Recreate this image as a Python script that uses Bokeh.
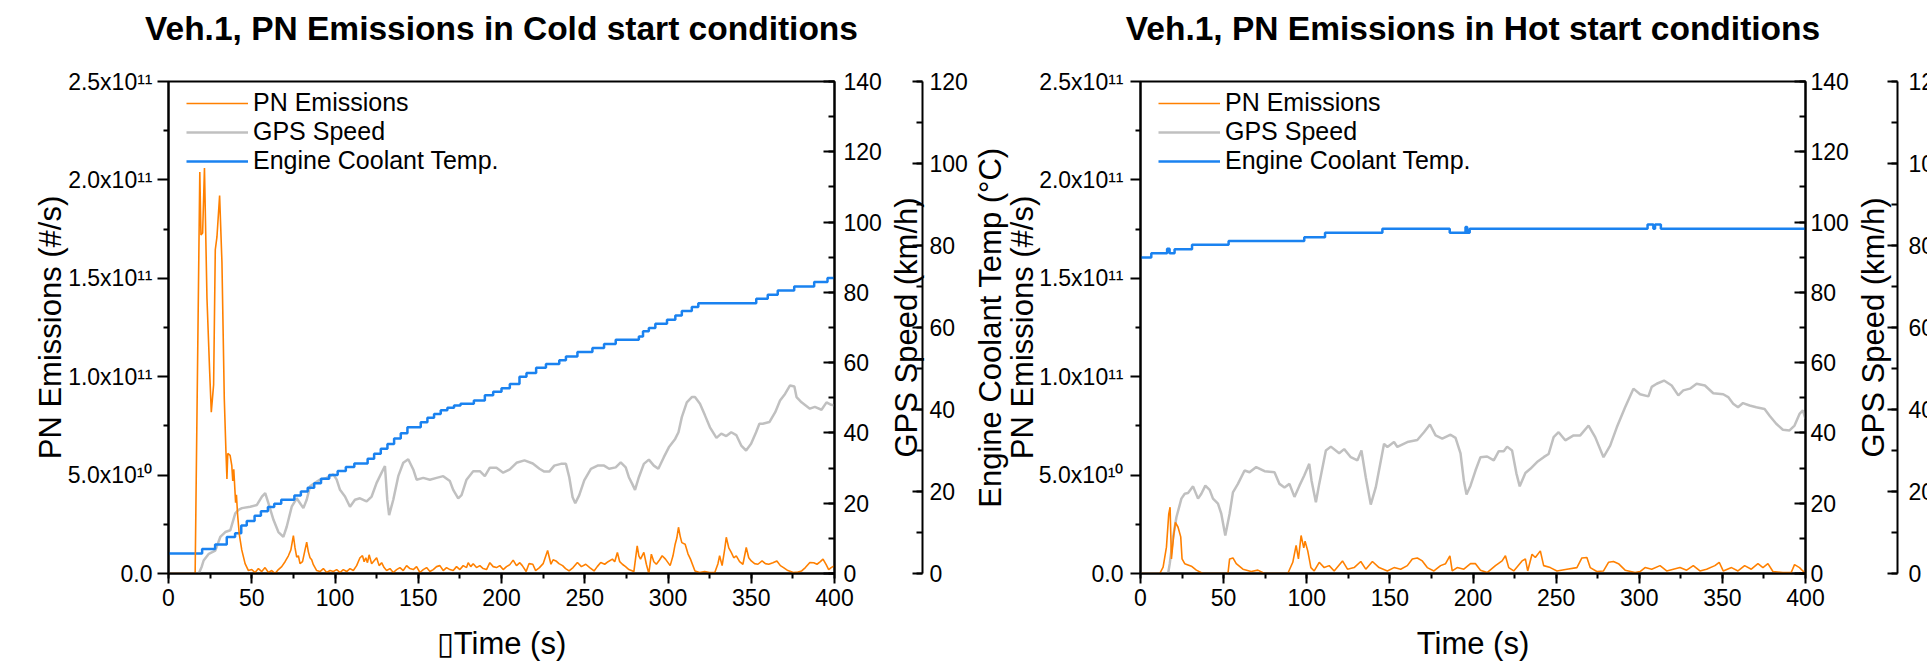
from bokeh.plotting import figure
from bokeh.models import (LinearAxis, Range1d, SingleIntervalTicker, FixedTicker,
                          Legend, LegendItem)
from bokeh.layouts import row
from bokeh.embed import file_html
from bokeh.resources import INLINE

# ---------------- data ----------------
# Cold start: PN emissions (#/s)
cold_pn_t = [0, 16, 18.8, 19.5, 20.5, 21.6, 23.1, 24.7, 25.7, 27.1, 28.1, 29.1, 30.7, 32.1, 33.5,
             34.5, 35.1, 35.6, 37, 38, 38.6, 39.2, 40.3, 40.8, 41.5, 42.5, 44, 46, 48,
             50, 52, 54, 56, 58, 60, 62, 64, 66, 68, 70, 72, 73.5, 75, 76, 77, 78, 79, 80.5, 82, 83,
             84, 85, 86, 87, 89, 91, 93, 95, 97, 99, 101, 103, 105, 107, 109, 111, 113, 115, 116.5,
             117.5, 118.5, 119.5, 120.5, 122, 123.5, 125, 126.5, 128, 129.5, 131, 133, 135, 137, 139,
             141, 143, 145, 147, 149, 151, 153, 155, 157, 159, 161, 163, 165, 167, 169, 171, 173, 175,
             177, 179, 180, 181.5, 183, 185, 187, 189, 191, 193, 195, 197, 199, 201, 203, 205, 207, 209,
             211, 212.5, 214.8, 216.5, 218.8, 220.5, 222.8, 225, 227.7, 229.7, 231, 232.7, 234.5, 236.7,
             238.5, 240.6, 243, 245.6, 248, 250.6, 253, 255.6, 257.5, 259.6, 262, 264, 266.6, 268, 269.6,
             271, 272.6, 274.5, 276.5, 279.5, 281.5, 282.5, 283.5, 285.5, 287, 288.5, 290, 291.5, 293,
             295, 296.5, 298.5, 301.3, 303, 304.3, 305.3, 306.3, 307.3, 308.3, 310.3, 312, 313.5, 316.2,
             319, 322, 325, 328.1, 330, 331, 332.5, 334, 335, 336.5, 338, 339.5, 341, 343, 345, 347,
             348.5, 350, 352, 354, 356.5, 358.5, 360.5, 363, 365.4, 367.5, 369.4, 372, 375.3, 378, 380.3,
             382.5, 385.2, 387.5, 389.5, 391.5, 393.1, 395, 396.5, 398, 400]
cold_pn_v = [0, 0, 2.04e11, 1.72e11, 1.73e11, 2.06e11, 1.40e11, 1.03e11, 0.82e11, 0.96e11, 1.645e11,
             1.71e11, 1.92e11, 1.58e11, 0.89e11, 0.62e11, 0.48e11, 0.61e11, 0.60e11, 0.55e11, 0.47e11,
             0.53e11, 0.36e11, 0.40e11, 0.30e11, 0.20e11, 0.12e11, 0.05e11, 0.015e11,
             0.2e10, 0.05e10, 0.25e10, 0.1e10, 0.3e10, 0.05e10, 0.15e10, 0.0, 0.2e10, 0.35e10, 0.6e10,
             0.9e10, 1.2e10, 1.93e10, 1.3e10, 0.83e10, 0.9e10, 0.5e10, 0.6e10, 1.2e10, 1.59e10,
             1.1e10, 0.8e10, 0.7e10, 0.45e10, 0.15e10, 0.1e10, 0.25e10, 0.05e10, 0.15e10, 0.1e10,
             0.2e10, 0.05e10, 0.2e10, 0.1e10, 0.25e10, 0.15e10, 0.4e10, 0.8e10, 0.91e10,
             0.6e10, 0.8e10, 0.55e10, 0.95e10, 0.5e10, 0.65e10, 0.8e10, 0.4e10, 0.55e10, 0.3e10,
             0.15e10, 0.25e10, 0.05e10, 0.2e10, 0.3e10,
             0.15e10, 0.4e10, 0.25e10, 0.2e10, 0.35e10, 0.05e10, 0.2e10, 0.3e10, 0.1e10, 0.2e10,
             0.35e10, 0.4e10, 0.15e10, 0.3e10, 0.2e10, 0.15e10, 0.35e10, 0.2e10,
             0.4e10, 0.3e10, 0.55e10, 0.35e10, 0.5e10, 0.3e10, 0.4e10, 0.25e10, 0.2e10, 0.55e10,
             0.35e10, 0.3e10, 0.4e10, 0.2e10, 0.35e10, 0.45e10, 0.68e10, 0.4e10,
             0.55e10, 0.4e10, 0.1e10, 0.5e10, 0.47e10, 0.15e10, 0.3e10, 0.5e10, 1.17e10, 0.47e10,
             0.7e10, 0.64e10, 0.5e10, 0.4e10,
             0.25e10, 0.13e10, 0.3e10, 0.56e10, 0.35e10, 0.47e10, 0.3e10, 0.13e10, 0.35e10, 0.56e10,
             0.47e10, 0.6e10, 0.73e10, 0.6e10, 1.07e10,
             0.6e10, 0.47e10, 0.35e10, 0.2e10, 0.1e10, 1.4e10, 0.9e10, 0.73e10, 1.07e10, 0.47e10,
             0.0, 0.98e10, 0.6e10, 0.47e10,
             0.7e10, 0.9e10, 0.73e10, 0.4e10, 0.9e10, 1.49e10, 1.8e10, 2.35e10, 1.9e10, 1.57e10,
             1.49e10, 1.0e10, 0.73e10, 0.13e10,
             0.05e10, 0.1e10, 0.05e10, 0.05e10, 0.5e10, 0.9e10, 0.4e10, 1.2e10, 1.84e10, 1.3e10,
             1.07e10, 0.8e10, 0.9e10, 0.6e10, 0.47e10, 1.32e10,
             0.8e10, 0.64e10, 0.5e10, 0.47e10, 0.64e10, 0.5e10, 0.47e10, 0.55e10, 0.64e10, 0.4e10,
             0.3e10, 0.15e10, 0.05e10, 0.08e10, 0.13e10,
             0.3e10, 0.56e10, 0.55e10, 0.47e10, 0.6e10, 0.73e10, 0.45e10, 0.2e10, 0.3e10, 0.4e10]

# Cold start: GPS speed (km/h)
cold_gps_t = [0, 18.2, 20, 21.1, 24.2, 28.1, 31.1, 34.1, 37.1, 40.1, 42, 44.1, 49.1, 53.1, 56.1, 58.1,
              60, 63.1, 66, 69, 71, 74, 77, 79, 81, 83, 85, 88, 91, 95, 99, 101, 103, 106, 109, 112,
              115, 119, 122, 125, 128, 130, 131.4, 132.5, 135, 138, 141, 144, 147, 149, 153, 157, 161,
              165, 169, 171, 174, 176, 179, 183, 187, 190, 193, 197, 201, 205, 209, 213.8, 218.8,
              222.8, 225.7, 228.7, 231.7, 235.7, 238.7, 240.7, 242.7, 244.3, 246.7, 249.7, 253.7,
              257.7, 261.6, 264.6, 268.6, 271.6, 274.6, 276.5, 278.5, 280.2, 282.5, 285.5, 288.5,
              291.5, 294.2, 297.5, 300.5, 304.3, 306.3, 308.3, 311.3, 314.3, 316.2, 319.2, 322.2,
              325.2, 329.1, 332, 335, 338, 341, 344, 346.9, 349.9, 352.9, 354.9, 356.9, 360.9, 364.4,
              367.3, 370.3, 373.3, 375.9, 377.2, 380.2, 385.2, 388.2, 392.2, 395.2, 398, 400]
cold_gps_v = [0, 0, 2, 3.7, 5.6, 6.5, 10.4, 11.8, 12.3, 17.1, 18.1, 18.6, 19.0, 19.5, 21.9, 22.9,
              20, 15.2, 11.8, 10.4, 13.3, 19, 21.4, 20, 18.6, 21, 24.8, 25.8, 26.7, 27.2, 28.2, 26.7,
              23.8, 21.9, 19.0, 21, 21.4, 20.5, 21.9, 25.8, 28.7, 30.6, 21, 16.6, 21, 27.7, 31.5,
              32.5, 29.6, 26.7, 27.2, 26.7, 27.2, 27.7, 26.3, 23.8, 21.4, 22.3, 26.7, 29.1, 29.1,
              27.7, 30.1, 30.1, 28.7, 29.6, 31.5, 32.2, 31.3, 29.8, 29, 29, 30.7, 31.2, 31.2, 27.4,
              21.7, 20, 22.3, 26.5, 29.8, 30.7, 30.7, 29.8, 30.2, 31.6, 30.2, 27.4, 25.5, 23.8,
              27.4, 31.2, 32.4, 30.7, 29.8, 33.1, 35.9, 38.3, 40.2, 44.5, 48.7, 50.2, 50.2, 48.3,
              45, 41.6, 38.6, 39.8, 39.1, 40.2, 39.4, 36.4, 35, 36.9, 40.2, 42.6, 42.6, 43.1, 45.9,
              49.2, 51.1, 53.5, 53.2, 50.2, 48.7, 46.9, 47.4, 46.6, 48.7, 48, 47.8]

# Cold start: engine coolant temperature (deg C)
cold_cool_t = [0, 20.2, 28, 35, 40, 43.7, 47, 51.7, 55.5, 59.7, 63.5, 67.7, 75.6, 79.5, 83.6, 87.5,
               91.6, 96.5, 101.6, 106.5, 111.6, 119.6, 123.5, 127.5, 131.5, 135.5, 139.5, 143.5,
               151.5, 155.5, 159.5, 163.5, 167.5, 171.5, 175.4, 183.4, 190, 195, 200, 205, 210.8,
               215, 220.8, 226.7, 234.7, 238.7, 245.6, 254.6, 261.6, 268.6, 282.5, 285, 288.5,
               292.4, 299.4, 304.4, 308.3, 314.3, 318.2, 328.1, 353, 359.9, 365.9, 375.8, 387.8,
               395.8, 400]
cold_cool_v = [4.9, 6.0, 7.1, 8.9, 9.8, 11.7, 12.8, 14.1, 15.2, 16.2, 17.0, 18.0, 19.0, 20.0, 20.9,
               22.0, 23.1, 24.0, 25.0, 26.0, 26.8, 28.0, 29.2, 30.4, 31.6, 32.9, 34.2, 35.7, 36.9,
               38.0, 38.9, 39.8, 40.4, 41.0, 41.4, 42.2, 43.5, 44.3, 45.2, 46.2, 48.0, 48.9, 50.2,
               51.1, 52.0, 52.9, 54.0, 55.0, 56.0, 57.0, 57.8, 59.1, 59.9, 60.9, 61.9, 62.9, 64.0,
               65.0, 65.9, 65.9, 67.0, 68.0, 69.0, 70.0, 71.1, 72.1, 72.1]

# Hot start: PN emissions (#/s)
hot_pn_t = [0, 11.6, 13.6, 15.6, 17, 17.8, 18.6, 20, 21, 22.6, 24.2, 25, 26.6, 30.6, 33.6, 37.6, 52.6,
            53.6, 55.6, 57.6, 61.6, 66.6, 70.6, 74.6, 88.6, 91.6, 93.6, 95, 96.6, 98.2, 99, 100.6,
            102.5, 104.5, 107.5, 110.5, 113.5, 116.5, 121.5, 124.5, 128.5, 132.5, 135.5, 139.5,
            143.5, 148.5, 152.5, 156.5, 160.5, 163.5, 166.5, 169.5, 172.5, 176.5, 180.5, 183.5,
            186.1, 187.5, 190.5, 194.5, 198.5, 201.5, 204.5, 208.5, 213.5, 217.5, 219.5, 221.5,
            224.5, 229.5, 231.5, 232.9, 235.5, 237.5, 240.5, 242.5, 246.5, 250.5, 256.5, 262.5,
            265.5, 268.5, 270.5, 274.5, 278.5, 281.5, 284.5, 287.5, 291.5, 297.5, 300.5, 303.5,
            307.5, 312.5, 316.5, 320.5, 324.5, 328.5, 332.5, 336.5, 340.5, 345.5, 348.1, 350.5,
            355.5, 359.4, 363.4, 367.4, 371.4, 374.4, 377.4, 380.4, 386.4, 391.4, 393.4, 396.4,
            398.4, 400]
hot_pn_v = [0, 0, 0.32e10, 1.34e10, 3.03e10, 3.37e10, 0.74e10, 1.96e10, 2.6e10, 2.35e10, 1.86e10,
            0.74e10, 0.5e10, 0.37e10, 0.17e10, 0, 0, 0.74e10, 0.79e10, 0.5e10, 0.22e10, 0.1e10,
            0.17e10, 0, 0, 0.57e10, 1.43e10, 0.74e10, 1.93e10, 1.3e10, 1.64e10, 1.15e10, 0.3e10,
            0.13e10, 0.57e10, 0.3e10, 0.4e10, 0.13e10, 0.64e10, 0.22e10, 0.3e10, 0.61e10, 0.22e10,
            0.61e10, 0.3e10, 0.13e10, 0.3e10, 0.22e10, 0.4e10, 0.74e10, 0.79e10, 0.64e10, 0.3e10,
            0.13e10, 0.4e10, 0.5e10, 0.9e10, 0.13e10, 0.3e10, 0.22e10, 0.5e10, 0.5e10, 0.17e10,
            0.05e10, 0.4e10, 0.64e10, 0.9e10, 0.3e10, 0.13e10, 0.64e10, 0.74e10, 0.13e10, 0.98e10,
            0.81e10, 1.15e10, 0.4e10, 0.3e10, 0.13e10, 0.22e10, 0.3e10, 0.79e10, 0.81e10, 0.3e10,
            0.1e10, 0.13e10, 0.57e10, 0.61e10, 0.5e10, 0.17e10, 0.05e10, 0.1e10, 0.3e10, 0.22e10,
            0.4e10, 0.13e10, 0.22e10, 0.3e10, 0.17e10, 0.4e10, 0.13e10, 0.22e10, 0.4e10, 0.57e10,
            0.13e10, 0.3e10, 0.13e10, 0.4e10, 0.22e10, 0.5e10, 0.3e10, 0.5e10, 0.1e10, 0.05e10,
            0.05e10, 0.45e10, 0.3e10, 0.13e10, 0]

# Hot start: GPS speed (km/h)
hot_gps_t = [0, 16.6, 17.6, 19.6, 21.6, 24.6, 26.6, 28.6, 31.6, 34.6, 36.6, 39, 41.6, 43.6, 46.6,
             48.6, 51, 53.6, 55.6, 58.6, 62.6, 65.6, 69.6, 74.6, 80.6, 83.6, 86.6, 89.6, 92.6, 95.6,
             98.5, 101.5, 102.9, 105.5, 107.5, 111.5, 114.5, 119.5, 122.5, 126.5, 130.5, 132.9,
             135.5, 138.5, 141.5, 146.5, 148.5, 152.5, 154.5, 160.5, 166.5, 170.5, 174.1, 177.5,
             181.5, 186.5, 189.5, 192.5, 194.5, 196.1, 198.5, 201.5, 204.5, 208.5, 212.5, 215.5,
             218.5, 220.5, 223.5, 226.1, 228.1, 231.5, 234.5, 238.5, 242.5, 245.5, 248.5, 251.5,
             255.5, 260.5, 264.5, 269.5, 273.5, 278.5, 282.5, 286.5, 291.5, 296.5, 300.5, 305.5,
             307.5, 310.5, 314.9, 319.5, 323.5, 326.5, 330.5, 334.5, 339.5, 344.5, 350.5, 353.5,
             356.5, 359.4, 362.4, 366.4, 370.4, 375.4, 378.4, 382.4, 386.4, 390.4, 393.4, 396.4,
             398.4, 400]
hot_gps_v = [0, 0, 2.8, 10.3, 16, 21.3, 22.7, 22.9, 24.8, 21.3, 22.7, 25, 23.8, 21.3, 19.9, 17,
             10.8, 17, 23.1, 25.5, 29.3, 28.8, 30.3, 29.1, 28.8, 25.5, 24.5, 25.5, 21.8, 25, 27.9,
             31.2, 26.4, 20.3, 25.5, 35, 36.1, 34.2, 35.4, 33.1, 32.2, 35, 27.4, 19.6, 24.5, 36.9,
             36, 37.4, 36, 37.4, 38, 40.2, 42.4, 39.3, 38.4, 39.5, 38.6, 34.2, 26.4, 22.5, 25,
             29.3, 33.1, 33.3, 32.2, 34.8, 34.8, 36.1, 35, 28.5, 24.8, 28.6, 29.8, 31.7, 33.1, 34,
             38.8, 40.2, 37.9, 39.3, 39.3, 42.1, 38.8, 33.1, 36.4, 41.6, 47.3, 52.6, 51, 50.4,
             53.1, 54, 54.9, 53.5, 50.7, 52.1, 52.6, 54, 53.5, 51.3, 51, 50.2, 48.3, 47.3, 48.5,
             47.8, 47.3, 46.8, 44.9, 42.6, 40.9, 40.7, 42.1, 45.4, 46.4, 44]

# Hot start: engine coolant temperature (deg C)
hot_cool_t = [0, 6.5, 16, 17.5, 20.5, 31, 53, 98.5, 111, 145.5, 186, 195.5, 196.5, 198, 305, 308.5,
              309.5, 313, 400]
hot_cool_v = [77.1, 78.1, 79.2, 78.1, 79.1, 80.2, 81.1, 82.0, 83.1, 84.1, 83.1, 84.5, 83.1, 84.1,
              85.1, 84.1, 85.1, 84.1, 84.1]

# axis ticks / labels
pn_ticks = [0, 50000000000, 100000000000, 150000000000, 200000000000, 250000000000]
pn_minor_ticks = [25000000000, 75000000000, 125000000000, 175000000000, 225000000000]
pn_tick_labels = ["0.0", "5.0x10\u00b9\u2070", "1.0x10\u00b9\u00b9", "1.5x10\u00b9\u00b9",
                  "2.0x10\u00b9\u00b9", "2.5x10\u00b9\u00b9"]

FONT = "Liberation Sans"
ORANGE = "#ff8000"
GRAY = "#c0c0c0"
BLUE = "#1a82f0"
FW, FH = 668, 492
TOP, BOTTOM = 81, 94
PN_MAX, GPS_MAX, COOL_MAX = 2.5e11, 140, 120


def style_axis(ax, tick_in, tick_out, minor_in, minor_out, label_standoff):
    ax.axis_line_width = 2
    ax.axis_line_color = "black"
    ax.major_tick_line_width = 2
    ax.minor_tick_line_width = 2
    ax.major_tick_line_color = "black"
    ax.minor_tick_line_color = "black"
    ax.major_tick_in = tick_in
    ax.major_tick_out = tick_out
    ax.minor_tick_in = minor_in
    ax.minor_tick_out = minor_out
    ax.major_label_text_font = FONT
    ax.major_label_text_font_size = "23px"
    ax.major_label_text_color = "black"
    ax.major_label_standoff = label_standoff
    ax.axis_label_text_font = FONT
    ax.axis_label_text_font_size = "31px"
    ax.axis_label_text_font_style = "normal"
    ax.axis_label_text_color = "black"


def title_axis(label, standoff, center, half, size="31px", bold=False, **kw):
    """An axis without ticks that only carries a title centred on `center`."""
    ax = LinearAxis(ticker=FixedTicker(ticks=[], minor_ticks=[]), axis_label=label,
                    bounds=(center - half, center + half), **kw)
    ax.axis_line_color = None
    ax.major_tick_line_color = None
    ax.minor_tick_line_color = None
    ax.major_tick_in = 0
    ax.major_tick_out = 0
    ax.minor_tick_in = 0
    ax.minor_tick_out = 0
    ax.major_label_standoff = 0
    ax.axis_label_standoff = standoff
    ax.axis_label_text_font = FONT
    ax.axis_label_text_font_size = size
    ax.axis_label_text_font_style = "bold" if bold else "normal"
    ax.axis_label_text_color = "black"
    return ax


def y_of(px_from_top, vmax):
    # data value that sits at a given vertical position of the frame
    return (TOP + FH - px_from_top) / FH * vmax


def base_fig(left, frame_w, right, y_range):
    p = figure(frame_width=frame_w, frame_height=FH,
               x_range=Range1d(0, 400), y_range=y_range,
               x_axis_location=None, y_axis_location=None,
               output_backend="svg", toolbar_location=None,
               min_border_left=left, min_border_right=right,
               min_border_top=TOP, min_border_bottom=BOTTOM,
               min_width=left + frame_w + right)
    p.grid.visible = False
    p.background_fill_color = "white"
    p.border_fill_color = "white"
    return p


def make_panel(title, xlabel, pn_t, pn_v, gps_t, gps_v, cool_t, cool_v,
               left, right, left_tick_out, left_label_standoff, gps_label_standoff,
               pn_title_y, pn_title_standoff, extra_left_titles):
    p = base_fig(left, FW, right, Range1d(0, PN_MAX))
    p.extra_y_ranges = {"gps": Range1d(0, GPS_MAX), "cool": Range1d(0, COOL_MAX)}
    p.outline_line_color = "black"
    p.outline_line_width = 2

    xa = LinearAxis(ticker=SingleIntervalTicker(interval=50, num_minor_ticks=2),
                    axis_label=xlabel)
    style_axis(xa, 0, 10, 0, 5, 5)
    xa.axis_label_standoff = 17
    p.add_layout(xa, "below")

    p.add_layout(title_axis(title, 35, 200, 1, size="33.5px", bold=True), "above")

    ya = LinearAxis(ticker=FixedTicker(ticks=pn_ticks, minor_ticks=pn_minor_ticks))
    ya.major_label_overrides = dict(zip(pn_ticks, pn_tick_labels))
    style_axis(ya, 0, left_tick_out, 0, 5, left_label_standoff)
    p.add_layout(ya, "left")
    p.add_layout(title_axis("PN Emissions (#/s)", pn_title_standoff,
                            y_of(pn_title_y, PN_MAX), 1e10), "left")
    for text, ypx, so in extra_left_titles:
        p.add_layout(title_axis(text, so, y_of(ypx, PN_MAX), 1e10), "left")

    gps_ax = LinearAxis(y_range_name="gps",
                        ticker=SingleIntervalTicker(interval=20, num_minor_ticks=2))
    style_axis(gps_ax, 11, 0, 6, 0, gps_label_standoff)
    p.add_layout(gps_ax, "right")

    r_gps = p.line(gps_t, gps_v, y_range_name="gps", line_color=GRAY, line_width=2.5)
    r_cool = p.step(cool_t, cool_v, mode="after", y_range_name="cool", line_color=BLUE,
                    line_width=2.5)
    r_pn = p.line(pn_t, pn_v, line_color=ORANGE, line_width=1.6)

    legend = Legend(items=[LegendItem(label="PN Emissions", renderers=[r_pn]),
                           LegendItem(label="GPS Speed", renderers=[r_gps]),
                           LegendItem(label="Engine Coolant Temp.", renderers=[r_cool])],
                    location=(18, 398))
    legend.label_text_font = FONT
    legend.label_text_font_size = "25px"
    legend.label_text_color = "black"
    legend.glyph_width = 62
    legend.glyph_height = 26
    legend.label_height = 26
    legend.label_standoff = 5
    legend.spacing = 0
    legend.padding = 0
    legend.margin = 0
    legend.border_line_color = None
    legend.background_fill_alpha = 0
    p.add_layout(legend)
    return p


def make_strip(left, right, gps_title_y, title_standoff, cool_label_standoff):
    """Narrow strip holding the GPS-speed title (reading upwards) and the coolant axis."""
    s = base_fig(left, 1, right, Range1d(0, COOL_MAX))
    s.x_range = Range1d(0, 1)
    s.outline_line_color = None
    s.add_layout(title_axis("GPS Speed (km/h)", title_standoff,
                            y_of(gps_title_y, COOL_MAX), 5), "left")
    cool_ax = LinearAxis(ticker=SingleIntervalTicker(interval=20, num_minor_ticks=2))
    style_axis(cool_ax, 10, 0, 6, 0, cool_label_standoff)
    s.add_layout(cool_ax, "right")
    return s


p_cold = make_panel("Veh.1, PN Emissions in Cold start conditions", "\u25afTime (s)",
                    cold_pn_t, cold_pn_v, cold_gps_t, cold_gps_v, cold_cool_t, cold_cool_v,
                    left=168, right=48, left_tick_out=11, left_label_standoff=5,
                    gps_label_standoff=9, pn_title_y=340, pn_title_standoff=-3,
                    extra_left_titles=[])
s_cold = make_strip(left=38, right=46, gps_title_y=361, title_standoff=-2,
                    cool_label_standoff=7)
p_hot = make_panel("Veh.1, PN Emissions in Hot start conditions", "Time (s)",
                   hot_pn_t, hot_pn_v, hot_gps_t, hot_gps_v, hot_cool_t, hot_cool_v,
                   left=170, right=44, left_tick_out=10, left_label_standoff=7,
                   gps_label_standoff=5, pn_title_y=322, pn_title_standoff=-4,
                   extra_left_titles=[("Engine Coolant Temp (\u00b0C)", 363, -6)])
s_hot = make_strip(left=46, right=50, gps_title_y=358, title_standoff=6,
                   cool_label_standoff=11)

layout = row(p_cold, s_cold, p_hot, s_hot, width=1927, height=667,
             styles={"overflow": "hidden"})

open("out.html", "w").write(file_html(layout, INLINE))
